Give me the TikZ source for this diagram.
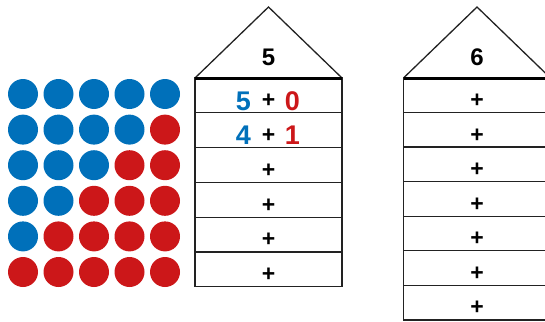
\documentclass[tikz,border=0pt]{standalone}
\usepackage{fontspec}
\setmainfont{Liberation Sans}
\definecolor{dblue}{HTML}{0070BA}
\definecolor{dred}{HTML}{CC1719}
\definecolor{lineclr}{HTML}{222222}
\begin{document}
\begin{tikzpicture}[x=1pt,y=-1pt,
  dot/.style={circle,minimum size=30pt,inner sep=0pt},
  bluedot/.style={dot,fill=dblue},
  reddot/.style={dot,fill=dred},
  rowbox/.style={draw=lineclr,line width=1.3pt,minimum width=147pt,minimum height=34.8pt,inner sep=0pt},
  roofline/.style={draw=lineclr,line width=1.3pt,line join=miter},
  basefont/.style={font=\bfseries\fontsize{24}{24}\selectfont},
  numfont/.style={font=\bfseries\fontsize{27}{27}\selectfont},
  plusfont/.style={font=\bfseries\fontsize{23}{23}\selectfont}]
\useasboundingbox (0,0) rectangle (545,321);
\clip (0,0) rectangle (545,321);
% dots
\foreach \r in {0,...,5}{
  \foreach \c in {0,...,4}{
    \pgfmathtruncatemacro{\nb}{5-\r}
    \ifnum\c<\nb
      \node[bluedot] (d\r\c) at ({23+35.5*\c},{94+35.6*\r}) {};
    \else
      \node[reddot] (d\r\c) at ({23+35.5*\c},{94+35.6*\r}) {};
    \fi
  }
}
% house 1
\coordinate (h1l) at (195,78);
\coordinate (h1a) at (268.5,7);
\coordinate (h1r) at (342,78);
\draw[roofline] (h1l) -- (h1a) -- (h1r);
\node[basefont] (h1n) at (268.5,57) {5};
\foreach \i in {0,...,5}{
  \node[rowbox] (h1row\i) at (268.5,{78+34.8*\i+17.4}) {};
}
\foreach \i in {2,...,5}{
  \node[plusfont] (h1p\i) at ([yshift=-5.5pt]h1row\i.center) {+};
}
\node[numfont,text=dblue] (h1a0) at ([xshift=-25pt,yshift=-5.5pt]h1row0.center) {5};
\node[plusfont] (h1p0) at ([yshift=-5.5pt]h1row0.center) {+};
\node[numfont,text=dred] (h1b0) at ([xshift=24pt,yshift=-5.5pt]h1row0.center) {0};
\node[numfont,text=dblue] (h1a1) at ([xshift=-25pt,yshift=-5.5pt]h1row1.center) {4};
\node[plusfont] (h1p1) at ([yshift=-5.5pt]h1row1.center) {+};
\node[numfont,text=dred] (h1b1) at ([xshift=24pt,yshift=-5.5pt]h1row1.center) {1};
\draw[draw=black,line width=3pt] (h1l) -- (h1r);
% house 2
\coordinate (h2l) at (403.5,78);
\coordinate (h2a) at (477,7);
\coordinate (h2r) at (550.5,78);
\draw[roofline] (h2l) -- (h2a) -- (h2r);
\node[basefont] (h2n) at (477,57) {6};
\foreach \i in {0,...,6}{
  \node[rowbox,minimum height=34.55pt] (h2row\i) at (477,{78+34.55*\i+17.275}) {};
  \node[plusfont] (h2p\i) at ([yshift=-5.5pt]h2row\i.center) {+};
}
\draw[draw=black,line width=3pt] (h2l) -- (h2r);
\end{tikzpicture}
\end{document}
